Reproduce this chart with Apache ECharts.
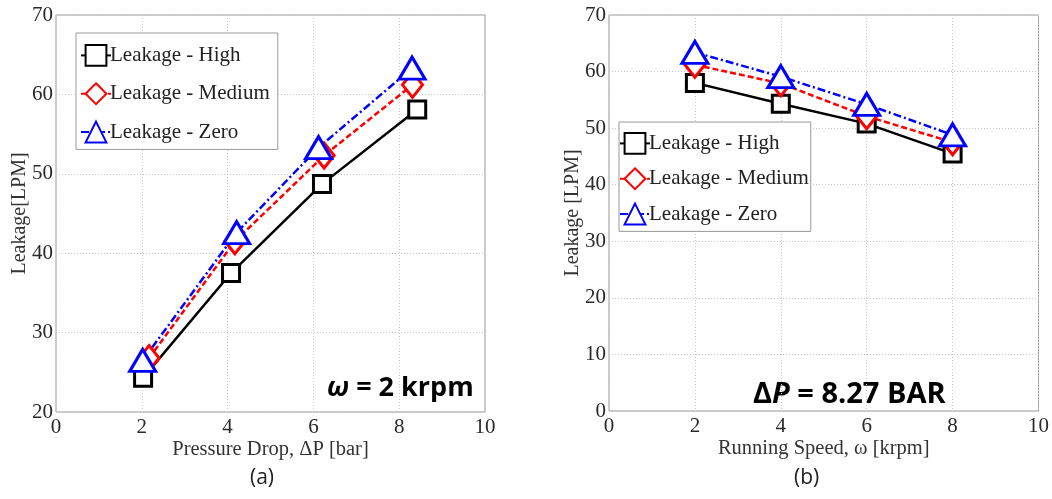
<!DOCTYPE html>
<html>
<head>
<meta charset="utf-8">
<script src="https://cdn.jsdelivr.net/npm/echarts@6/dist/echarts.min.js"></script>
<style>
  html, body { margin: 0; padding: 0; background: #fff; }
  #chart { width: 1052px; height: 499px; }
</style>
</head>
<body>
<div id="chart"></div>
<script>
// panel (a): leakage vs pressure drop at 2 krpm
const dropHighX = [2.03, 4.08, 6.2, 8.42]
const dropHigh = [24.3, 37.5, 48.7, 58.1]
const dropMediumX = [2.17, 4.17, 6.25, 8.31]
const dropMedium = [26.8, 41.5, 52.3, 61.2]
const dropZeroX = [2.02, 4.21, 6.12, 8.3]
const dropZero = [26.5, 42.6, 53.3, 63.3]

// panel (b): leakage vs running speed at 8.27 bar
const speedX = [2, 4, 6, 8]
const speedHigh = [58.0, 54.3, 50.8, 45.5]
const speedMedium = [61.2, 57.9, 52.1, 47.5]
const speedZero = [63.4, 59.1, 54.2, 48.8]

const names = ['Leakage - High', 'Leakage - Medium', 'Leakage - Zero']

const serif = 'Liberation Serif'
const pair = (xs, ys) => xs.map((x, i) => [x, ys[i]])

const styles = [
  { color: '#000', symbol: 'rect', symbolSize: 17, line: 'solid' },
  { color: '#ff0000', symbol: 'diamond', symbolSize: [20, 25], line: [6, 3] },
  { color: '#0000ff', symbol: 'triangle', symbolSize: [26, 22], line: [8, 3, 2, 3] }
]

function makeSeries (idx, data, s, name) {
  return {
    name: name,
    type: 'line',
    xAxisIndex: idx,
    yAxisIndex: idx,
    data: data,
    symbol: s.symbol,
    symbolSize: s.symbolSize,
    showAllSymbol: true,
    itemStyle: { color: '#fff', borderColor: s.color, borderWidth: 3 },
    lineStyle: { color: s.color, width: 2.5, type: s.line },
    z: 3
  }
}

function xAxis (idx, name) {
  return {
    type: 'value',
    gridIndex: idx,
    min: 0,
    max: 10,
    interval: 2,
    name: name,
    nameLocation: 'middle',
    nameGap: 27,
    nameMoveOverlap: false,
    nameTextStyle: { fontFamily: serif, fontSize: 20.5, color: '#333' },
    axisLine: { show: false },
    axisTick: { show: false },
    axisLabel: { fontFamily: serif, fontSize: 21, color: '#2a2a2a', margin: 5 },
    splitLine: { lineStyle: { color: '#c8c8c8', type: [1, 2] } }
  }
}

function yAxis (idx, min, name) {
  return {
    type: 'value',
    gridIndex: idx,
    min: min,
    max: 70,
    interval: 10,
    name: name,
    nameLocation: 'middle',
    nameGap: 26,
    nameMoveOverlap: false,
    nameTextStyle: { fontFamily: serif, fontSize: 20, color: '#333' },
    axisLine: { show: false },
    axisTick: { show: false },
    axisLabel: { fontFamily: serif, fontSize: 21, color: '#2a2a2a', margin: 3 },
    splitLine: { lineStyle: { color: '#c8c8c8', type: [1, 2] } }
  }
}

function legend (left, top, gap, padding) {
  return {
    orient: 'vertical',
    left: left,
    top: top,
    data: names,
    backgroundColor: '#fff',
    borderColor: '#999',
    borderWidth: 1,
    padding: padding,
    itemGap: gap,
    itemWidth: 30,
    itemHeight: 26,
    textStyle: { fontFamily: serif, fontSize: 21, color: '#222', padding: [0, 0, 0, -6] }
  }
}

const chart = echarts.init(document.getElementById('chart'), null, { renderer: 'canvas' })

chart.setOption({
  animation: false,
  grid: [
    { left: 56, top: 15, width: 429, height: 397, show: true, borderColor: '#999', borderWidth: 1 },
    { left: 609, top: 15, width: 430, height: 396, show: true, borderColor: '#999', borderWidth: 1 }
  ],
  xAxis: [
    xAxis(0, 'Pressure Drop, ΔP [bar]'),
    xAxis(1, 'Running Speed, ω [krpm]')
  ],
  yAxis: [
    yAxis(0, 20, 'Leakage[LPM]'),
    yAxis(1, 0, 'Leakage [LPM]')
  ],
  legend: [
    legend(76, 33, 15.5, [11, 8, 6, 4]),
    legend(619, 122, 12.5, [10, 2, 6, 0])
  ],
  series: [
    makeSeries(0, pair(dropHighX, dropHigh), styles[0], names[0]),
    makeSeries(0, pair(dropMediumX, dropMedium), styles[1], names[1]),
    makeSeries(0, pair(dropZeroX, dropZero), styles[2], names[2]),
    makeSeries(1, pair(speedX, speedHigh), styles[0], names[0]),
    makeSeries(1, pair(speedX, speedMedium), styles[1], names[1]),
    makeSeries(1, pair(speedX, speedZero), styles[2], names[2])
  ],
  graphic: [
    {
      type: 'text', left: 327, top: 375,
      style: {
        text: '{i|ω}{d| = 2 krpm}',
        rich: {
          d: { font: 'bold 27px "Open Sans"', fill: '#000' },
          i: { font: 'italic bold 27px "Open Sans"', fill: '#000' }
        }
      }
    },
    {
      type: 'text', left: 753, top: 380,
      style: {
        text: '{d|Δ}{p|P}{d| = 8.27 BAR}',
        rich: {
          d: { font: 'bold 29px "Open Sans"', fill: '#000' },
          p: { font: 'italic bold 29px "Open Sans"', fill: '#000' }
        }
      }
    },
    {
      type: 'text', left: 250, top: 468,
      style: { text: '(a)', font: '21px "Open Sans"', fill: '#222' }
    },
    {
      type: 'text', left: 794, top: 468,
      style: { text: '(b)', font: '21px "Open Sans"', fill: '#222' }
    }
  ]
})
</script>
</body>
</html>
